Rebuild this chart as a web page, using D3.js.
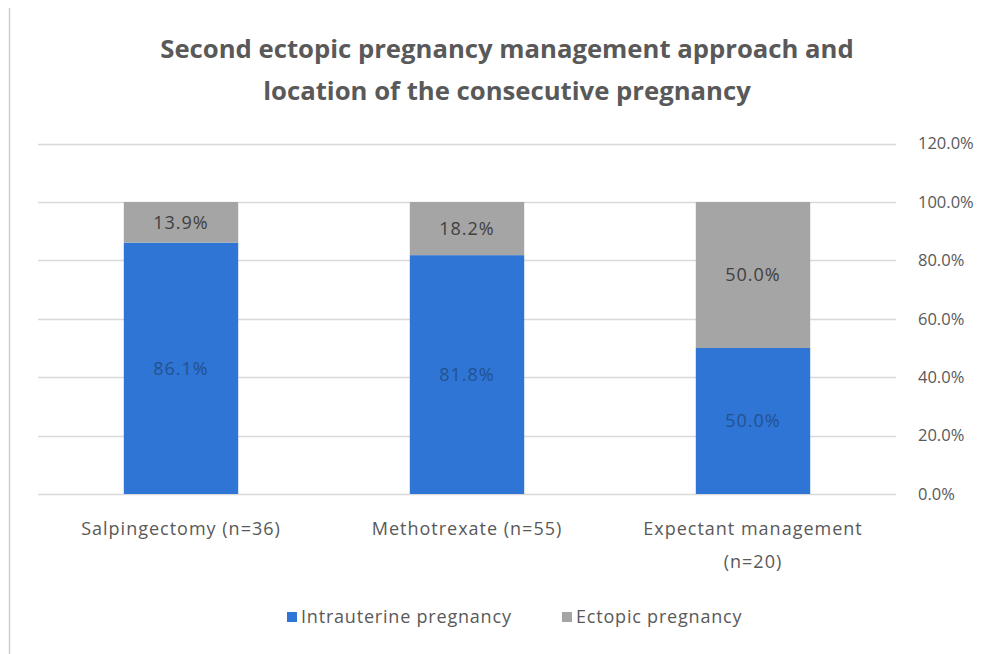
<!DOCTYPE html>
<html>
<head>
<meta charset="utf-8">
<script src="https://cdn.jsdelivr.net/npm/d3@7"></script>
<style>
  body { margin: 0; background: #fff; }
  text { font-family: "Open Sans", Lato, sans-serif; }
</style>
</head>
<body>
<div id="chart"></div>
<script>
const categories = ["Salpingectomy (n=36)", "Methotrexate (n=55)", "Expectant management (n=20)"];
const categoryLines = [["Salpingectomy (n=36)"], ["Methotrexate (n=55)"], ["Expectant management", "(n=20)"]];
const seriesNames = ["Intrauterine pregnancy", "Ectopic pregnancy"];
const intrauterine = [86.1, 81.8, 50.0];
const ectopic = [13.9, 18.2, 50.0];
const yTicks = [0, 20, 40, 60, 80, 100, 120];
const titleLines = ["Second ectopic pregnancy management approach and", "location of the consecutive pregnancy"];

const colors = ["#2E75D6", "#A5A5A5"];
const textColor = "#595959";

const svg = d3.select("#chart").append("svg")
  .attr("width", 988)
  .attr("height", 654);

// frame line on the left
svg.append("line")
  .attr("x1", 9.5).attr("x2", 9.5)
  .attr("y1", 8).attr("y2", 654)
  .style("stroke", "#d0d0d0")
  .style("stroke-width", 1.5);

const plotLeft = 38, plotRight = 896, plotTop = 143.6, plotBottom = 494;

const x = d3.scaleBand()
  .domain(categories)
  .range([plotLeft, plotRight])
  .paddingInner(0.6)
  .paddingOuter(0.3);

const y = d3.scaleLinear()
  .domain([0, 120])
  .range([plotBottom, plotTop]);

// gridlines
svg.selectAll("line.hgrid")
  .data(yTicks)
  .enter()
  .append("line")
  .attr("class", "hgrid")
  .attr("x1", plotLeft)
  .attr("x2", plotRight)
  .attr("y1", d => Math.round(y(d)) + 0.5)
  .attr("y2", d => Math.round(y(d)) + 0.5)
  .style("stroke", "#d9d9d9")
  .style("stroke-width", 1.3);

// right axis labels
const yAxis = d3.axisRight(y)
  .tickValues(yTicks)
  .tickSize(0)
  .tickPadding(0)
  .tickFormat(d => d.toFixed(1) + "%");

const yAxisG = svg.append("g")
  .attr("transform", `translate(918, 0)`)
  .call(yAxis);
yAxisG.select(".domain").remove();
yAxisG.selectAll("text")
  .style("font-size", "16.5px")
  .style("fill", textColor)
  .style("font-family", "'Open Sans', sans-serif");

// stacked data
const stackData = categories.map((c, i) => ({ cat: c, intra: intrauterine[i], ecto: ectopic[i] }));
const stack = d3.stack().keys(["intra", "ecto"]);
const series = stack(stackData);

const groups = svg.selectAll("g.series")
  .data(series)
  .enter()
  .append("g")
  .attr("class", "series")
  .style("fill", (d, i) => colors[i]);

groups.selectAll("rect")
  .data(d => d)
  .enter()
  .append("rect")
  .attr("x", d => x(d.data.cat))
  .attr("width", x.bandwidth())
  .attr("y", d => y(d[1]))
  .attr("height", d => y(d[0]) - y(d[1]));

// data labels
groups.selectAll("text")
  .data(d => d.map(v => ({ v, key: d.key })))
  .enter()
  .append("text")
  .attr("x", d => x(d.v.data.cat) + x.bandwidth() / 2)
  .attr("y", d => (y(d.v[0]) + y(d.v[1])) / 2)
  .attr("dy", "0.35em")
  .attr("text-anchor", "middle")
  .style("font-size", "18px")
  .style("letter-spacing", "1px")
  .style("fill", d => d.key === "intra" ? "#24528f" : "#404040")
  .text(d => (d.v[1] - d.v[0]).toFixed(1) + "%");

// category labels
categories.forEach((c, i) => {
  const t = svg.append("text")
    .attr("x", x(c) + x.bandwidth() / 2)
    .attr("y", 529)
    .attr("text-anchor", "middle")
    .style("font-size", "18px")
    .style("letter-spacing", "1px")
    .style("fill", textColor);
  categoryLines[i].forEach((line, j) => {
    t.append("tspan")
      .attr("x", x(c) + x.bandwidth() / 2)
      .attr("dy", j === 0 ? "0.35em" : "1.8em")
      .text(line);
  });
});

// title
svg.append("text")
  .attr("x", 507)
  .attr("y", 58)
  .attr("text-anchor", "middle")
  .style("font-size", "25.7px")
  .style("font-weight", "bold")
  .style("fill", textColor)
  .selectAll("tspan")
  .data(titleLines)
  .enter()
  .append("tspan")
  .attr("x", 507)
  .attr("dy", (d, i) => i === 0 ? 0 : 42)
  .text(d => d);

// legend
const legendX = [287, 562];
const legend = svg.selectAll("g.legend")
  .data(seriesNames)
  .enter()
  .append("g")
  .attr("class", "legend")
  .attr("transform", (d, i) => `translate(${legendX[i]}, 617)`);

legend.append("rect")
  .attr("x", 0)
  .attr("y", -5)
  .attr("width", 10)
  .attr("height", 10)
  .style("fill", (d, i) => colors[i]);

legend.append("text")
  .attr("x", 14)
  .attr("dy", "0.35em")
  .style("font-size", "18px")
  .style("letter-spacing", "0.8px")
  .style("fill", textColor)
  .text(d => d);
</script>
</body>
</html>
